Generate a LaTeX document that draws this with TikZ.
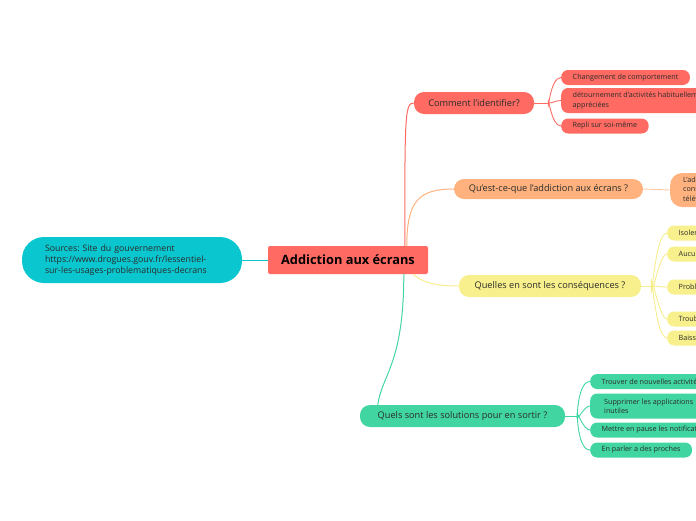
\documentclass[tikz,border=0pt]{standalone}
\usepackage{fontspec}
\setmainfont{Open Sans}
\usetikzlibrary{calc}
\frenchspacing
\definecolor{cred}{HTML}{FF6B62}
\definecolor{cpeach}{HTML}{FFB27E}
\definecolor{cyel}{HTML}{F8F08C}
\definecolor{cyelline}{HTML}{F6EE8E}
\definecolor{cgreen}{HTML}{41D6A1}
\definecolor{ccyan}{HTML}{0AC7CF}
\definecolor{ctext}{HTML}{2B2B2B}
\tikzset{
  rootbox/.style={fill=cred, rounded corners=2pt, minimum width=160pt, minimum height=28pt, font=\fontsize{12.8}{14}\selectfont\bfseries, text=black, inner sep=0pt},
  srcbox/.style={fill=ccyan, rounded corners=22pt, minimum width=220pt, minimum height=46pt, align=left, text width=174pt, inner xsep=23pt, font=\fontsize{8.8}{11}\selectfont\frenchspacing, text=ctext},
  mainbox/.style={rounded corners=10pt, minimum height=22pt, font=\fontsize{9.2}{10}\selectfont, text=ctext, inner sep=0pt},
  subbox/.style={anchor=west, rounded corners=7pt, minimum height=15pt, inner xsep=11.5pt, inner ysep=2pt, align=left, font=\fontsize{7.2}{9.3}\selectfont, text=ctext},
  mline/.style={line width=1pt},
  sline/.style={line width=0.9pt},
}
\begin{document}
\begin{tikzpicture}[x=1pt,y=-1pt]
\useasboundingbox (0,0) rectangle (696,520);
\clip (0,0) rectangle (696,520);
% main nodes
\node[rootbox] (root) at (348,260) {Addiction aux écrans};
\node[srcbox] (src) at (132,260) {Sources: Site du gouvernement\\https://www.drogues.gouv.fr/lessentiel-\\sur-les-usages-problematiques-decrans};
\node[mainbox, fill=cred, minimum width=120pt] (c1) at (474,103) {Comment l'identifier?};
\node[mainbox, fill=cpeach, minimum width=189pt, minimum height=20pt] (c2) at (548.5,189) {Qu'est-ce-que l'addiction aux écrans ?};
\node[mainbox, fill=cyel, minimum width=182pt] (c3) at (550,286) {Quelles en sont les conséquences ?};
\node[mainbox, fill=cgreen, minimum width=205pt] (c4) at (462.5,416) {Quels sont les solutions pour en sortir ?};
% root connectors
\draw[mline, ccyan] (root.west) -- (src.east);
\coordinate (r1) at ($(root.north west)+(137,0)$);
\coordinate (r2) at ($(root.north west)+(139,0)$);
\coordinate (r3) at ($(root.south west)+(145,0)$);
\coordinate (r4) at ($(root.south west)+(136,0)$);
\draw[mline, cred] (r1) .. controls ($(r1)+(0,-130)$) and ($(c1.west)+(-9,0)$) .. (c1.west);
\draw[mline, cpeach] (r2) .. controls ($(r2)+(0,-45)$) and ($(c2.west)+(-35,0)$) .. (c2.west);
\draw[mline, cyelline] (r3) .. controls ($(r3)+(10,8)$) and ($(c3.west)+(-25,0)$) .. (c3.west);
\draw[mline, cgreen] (r4) .. controls ($(r4)+(0,90)$) and ($(c4.north west)+(22,-30)$) .. ($(c4.north west)+(18,0)$);
% red children
\node[subbox, fill=cred] (a1) at (561,77.5) {Changement de comportement};
\node[subbox, fill=cred, minimum height=25pt] (a2) at (561,100.5) {détournement d'activités habituellement\\appréciées};
\node[subbox, fill=cred] (a3) at (561,126) {Repli sur soi-même};
\coordinate (ja) at ($(c1.east)+(14,0)$);
\draw[sline, cred] (c1.east) -- (ja);
\draw[sline, cred] (ja) to[out=-90, in=180] (a1.west);
\draw[sline, cred] (ja) to[out=0, in=180] (a2.west);
\draw[sline, cred] (ja) to[out=90, in=180] (a3.west);
% peach child
\node[subbox, fill=cpeach, rounded corners=12pt, minimum height=34pt, inner xsep=13pt] (p1) at (670,190) {L'addiction aux écrans correspond à une\\consommation excessive des écrans\\télévision, ordinateur, téléphone};
\draw[sline, cpeach!70] (c2.east) -- (p1.west);
% yellow children
\node[subbox, fill=cyel] (y1) at (667,233) {Isolement};
\node[subbox, fill=cyel] (y2) at (667,254) {Aucune activité};
\node[subbox, fill=cyel] (y3) at (667,287) {Problèmes de sommeil};
\node[subbox, fill=cyel] (y4) at (667,319) {Troubles de l'attention};
\node[subbox, fill=cyel] (y5) at (667,338) {Baisse des résultats};
\coordinate (jy) at ($(c3.east)+(10,0)$);
\draw[sline, cyelline] (c3.east) -- (jy);
\draw[sline, cyelline] (jy) to[out=-90, in=180, out looseness=1.4, in looseness=0.6] (y1.west);
\draw[sline, cyelline] (jy) to[out=-90, in=180, out looseness=1.4, in looseness=0.6] (y2.west);
\draw[sline, cyelline] (jy) to[out=0, in=180] (y3.west);
\draw[sline, cyelline] (jy) to[out=90, in=180, out looseness=1.4, in looseness=0.6] (y4.west);
\draw[sline, cyelline] (jy) to[out=90, in=180, out looseness=1.4, in looseness=0.6] (y5.west);
% green children
\node[subbox, fill=cgreen] (g1) at (590,381.5) {Trouver de nouvelles activités};
\node[subbox, fill=cgreen, minimum height=25pt, inner xsep=14pt] (g2) at (590,406) {Supprimer les applications\\inutiles};
\node[subbox, fill=cgreen] (g3) at (590,430) {Mettre en pause les notifications};
\node[subbox, fill=cgreen] (g4) at (590,450) {En parler a des proches};
\coordinate (jg) at ($(c4.east)+(12,0)$);
\draw[sline, cgreen] (c4.east) -- (jg);
\draw[sline, cgreen] (jg) to[out=-90, in=180] (g1.west);
\draw[sline, cgreen] (jg) to[out=-90, in=180] (g2.west);
\draw[sline, cgreen] (jg) to[out=90, in=180] (g3.west);
\draw[sline, cgreen] (jg) to[out=90, in=180] (g4.west);
\end{tikzpicture}
\end{document}
